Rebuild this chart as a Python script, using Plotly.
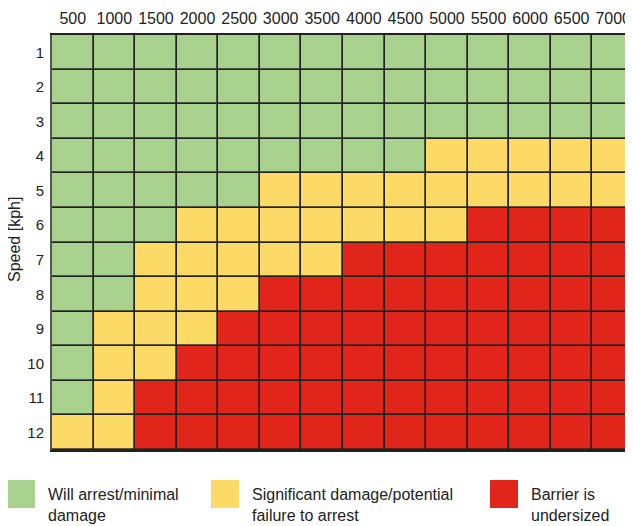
import plotly.graph_objects as go

masses = [500, 1000, 1500, 2000, 2500, 3000, 3500, 4000, 4500, 5000, 5500, 6000, 6500, 7000]
speeds = [1, 2, 3, 4, 5, 6, 7, 8, 9, 10, 11, 12]
# 0 = will arrest, 1 = significant damage, 2 = undersized
status = [
    [0, 0, 0, 0, 0, 0, 0, 0, 0, 0, 0, 0, 0, 0],
    [0, 0, 0, 0, 0, 0, 0, 0, 0, 0, 0, 0, 0, 0],
    [0, 0, 0, 0, 0, 0, 0, 0, 0, 0, 0, 0, 0, 0],
    [0, 0, 0, 0, 0, 0, 0, 0, 0, 1, 1, 1, 1, 1],
    [0, 0, 0, 0, 0, 1, 1, 1, 1, 1, 1, 1, 1, 1],
    [0, 0, 0, 1, 1, 1, 1, 1, 1, 1, 2, 2, 2, 2],
    [0, 0, 1, 1, 1, 1, 1, 2, 2, 2, 2, 2, 2, 2],
    [0, 0, 1, 1, 1, 2, 2, 2, 2, 2, 2, 2, 2, 2],
    [0, 1, 1, 1, 2, 2, 2, 2, 2, 2, 2, 2, 2, 2],
    [0, 1, 1, 2, 2, 2, 2, 2, 2, 2, 2, 2, 2, 2],
    [0, 1, 2, 2, 2, 2, 2, 2, 2, 2, 2, 2, 2, 2],
    [1, 1, 2, 2, 2, 2, 2, 2, 2, 2, 2, 2, 2, 2],
]
legend_labels = ["Will arrest/minimal<br>damage",
                 "Significant damage/potential<br>failure to arrest",
                 "Barrier is<br>undersized"]
colors = ["#a9d18e", "#fdd966", "#e1251b"]

colorscale = [[0.0, colors[0]], [1/3, colors[0]],
              [1/3, colors[1]], [2/3, colors[1]],
              [2/3, colors[2]], [1.0, colors[2]]]

fig = go.Figure(go.Heatmap(
    z=status, x=[str(m) for m in masses], y=speeds,
    colorscale=colorscale, zmin=0, zmax=2, showscale=False,
    xgap=1.7, ygap=1.7, hoverinfo="skip"))

font_main = "Liberation Sans, Arial, sans-serif"

# page body adds an 8px offset; work in screen pixels and subtract it
OFF = 8
W, H = 633, 526
L, T = 52 - OFF, 35 - OFF
R = W - (634 - OFF)
B = H - (450 - OFF)
pw, ph = W - L - R, H - T - B

def px_x(x):
    return (x - OFF - L) / pw

def px_y(y):
    return (H - B - (y - OFF)) / ph

fig.update_layout(
    width=W, height=H,
    margin=dict(l=L, r=R, t=T, b=B, autoexpand=False),
    paper_bgcolor="white", plot_bgcolor="#222222",
    font=dict(family=font_main, size=15, color="#222222"),
    xaxis=dict(side="top", type="category", showgrid=False, zeroline=False,
               automargin=False,
               ticks="outside", ticklen=3, tickcolor="rgba(0,0,0,0)",
               showline=True, linecolor="#222222", linewidth=2, mirror=True,
               tickfont=dict(size=16)),
    yaxis=dict(autorange="reversed", tickvals=speeds, showgrid=False, zeroline=False,
               automargin=False,
               ticks="outside", ticklen=3, tickcolor="rgba(0,0,0,0)",
               showline=True, linecolor="#555555", linewidth=2, mirror=True,
               tickfont=dict(size=15)),
)

# y-axis title as rotated text beside the grid
fig.add_annotation(xref="paper", yref="paper", x=px_x(14), y=px_y(240),
                   text="Speed [kph]", textangle=-90, showarrow=False,
                   xanchor="center", yanchor="middle", borderpad=0,
                   font=dict(size=16, color="#222222"))

sq_x = [7, 211, 490]
for i, (lab, col) in enumerate(zip(legend_labels, colors)):
    fig.add_shape(type="rect", xref="paper", yref="paper",
                  x0=px_x(sq_x[i]), x1=px_x(sq_x[i] + 28),
                  y0=px_y(508), y1=px_y(480),
                  fillcolor=col, line=dict(width=0))
    fig.add_annotation(xref="paper", yref="paper",
                       x=px_x(sq_x[i] + 40), y=px_y(485),
                       xanchor="left", yanchor="top", align="left",
                       text=lab, showarrow=False, borderpad=0,
                       font=dict(size=16, color="#222222"))

fig.write_html("out.html")
